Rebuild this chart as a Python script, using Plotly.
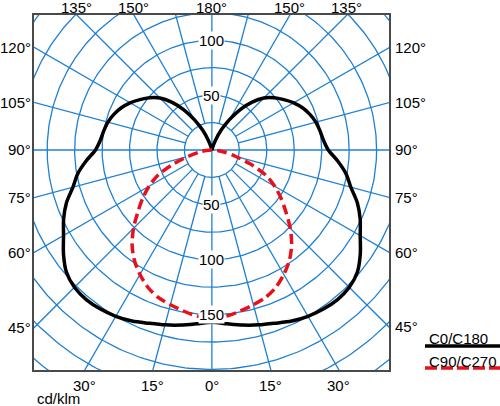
import numpy as np
import plotly.graph_objects as go

# Lichtstärkeverteilung (cd/klm) über den Ausstrahlungswinkel gamma (0° = nadir)
gamma_c0 = list(range(0, 181, 5))
c0_c180 = [157, 159, 162, 165, 168, 172, 175, 177, 178, 177, 173, 165, 156, 149, 141,
           131, 124, 115, 106, 102, 100, 98, 95, 91, 86, 80, 74, 67, 57, 45,
           32, 20, 9, 2, 0, 0, 0]
gamma_c90 = list(range(0, 91, 5))
c90_c270 = [153, 152, 149, 146, 143, 138, 131, 123, 113, 101, 88, 77, 66, 54, 37,
            22, 12, 5, 0]

ring_values = [25, 50, 75, 100, 125, 150, 175, 200, 225, 250, 275]
ring_labels_up = [50, 100]
ring_labels_down = [50, 100, 150]
spoke_angles = list(range(0, 360, 15))
angle_labels_left = [0, 15, 30, 45, 60, 75, 90, 105, 120, 135, 150, 180]
angle_labels_right = [15, 30, 45, 60, 75, 90, 105, 120, 135, 150]
unit_label = "cd/klm"
series_names = ["C0/C180", "C90/C270"]

BLUE = "#1f80d2"
FRAME = "#4a4a4a"
FONT = "Arial, Liberation Sans, sans-serif"
X0, X1 = -162.0, 161.3
Y0, Y1 = -200.5, 123.0
W, H = 500, 406
L, T = 34, 15
R, B = W - 389, H - 370


def to_xy(gam, val):
    """Halbebene rechts (C0/C90) + gespiegelt links (C180/C270), geschlossen."""
    g = np.radians(np.array(gam, dtype=float))
    r = np.array(val, dtype=float)
    xr, yr = r * np.sin(g), -r * np.cos(g)
    return np.concatenate([xr, -xr[::-1]]), np.concatenate([yr, yr[::-1]])


def px_x(p):
    return (p - L) / (W - L - R)


def px_y(p):
    return (H - B - p) / (H - T - B)


# Raster: Ringe + Speichen in einer Linie (None trennt)
gx, gy = [], []
t = np.linspace(0, 2 * np.pi, 361)
for rv in ring_values:
    gx += list(rv * np.cos(t)) + [None]
    gy += list(rv * np.sin(t)) + [None]
for a in spoke_angles:
    r_in = 0 if a % 90 == 0 else ring_values[0]
    s, c = np.sin(np.radians(a)), -np.cos(np.radians(a))
    gx += [r_in * s, 320 * s, None]
    gy += [r_in * c, 320 * c, None]

fig = go.Figure()
fig.add_trace(go.Scatter(x=gx, y=gy, mode="lines", hoverinfo="skip",
                         line=dict(color=BLUE, width=1.3)))

x1, y1 = to_xy(gamma_c0, c0_c180)
fig.add_trace(go.Scatter(x=x1, y=y1, mode="lines", name=series_names[0],
                         line=dict(color="black", width=3.5, shape="spline", smoothing=0.8)))
x2, y2 = to_xy(gamma_c90, c90_c270)
fig.add_trace(go.Scatter(x=x2, y=y2, mode="lines", name=series_names[1],
                         line=dict(color="#e8101a", width=3.5, dash="10px,5px",
                                   shape="spline", smoothing=0.8)))

ann = []
for v in ring_labels_up:
    ann.append(dict(x=0, y=v, text=str(v)))
for v in ring_labels_down:
    ann.append(dict(x=0, y=-v, text=str(v)))
for a in ann:
    a.update(xref="x", yref="y", showarrow=False, bgcolor="white", borderpad=0,
             font=dict(size=15, color="black", family=FONT))


def edge_label(g, side):
    # Schnittpunkt der Speiche mit dem Rahmen
    s = side * np.sin(np.radians(g))
    c = -np.cos(np.radians(g))
    ts = []
    if s > 1e-9:
        ts.append((X1 / s, "r"))
    if s < -1e-9:
        ts.append((X0 / s, "l"))
    if c > 1e-9:
        ts.append((Y1 / c, "t"))
    if c < -1e-9:
        ts.append((Y0 / c, "b"))
    tt, edge = min(ts)
    d = dict(x=tt * s, y=tt * c, text=f"{g}°", xref="x", yref="y", showarrow=False,
             font=dict(size=15, color="black", family=FONT))
    if edge == "t":
        d.update(yanchor="bottom", yshift=-3)
    elif edge == "b":
        d.update(yanchor="top", yshift=-5)
    elif edge == "l":
        d.update(xanchor="right", xshift=-1)
    else:
        d.update(xanchor="left", xshift=4)
    return d


for g in angle_labels_left:
    ann.append(edge_label(g, -1))
for g in angle_labels_right:
    ann.append(edge_label(g, 1))

# Legende: Text über Linienmuster
txt = dict(xref="paper", yref="paper", showarrow=False, xanchor="left", yanchor="middle",
           font=dict(size=15, color="black", family=FONT))
ann.append(dict(x=px_x(427), y=px_y(338), text=series_names[0], **txt))
ann.append(dict(x=px_x(427), y=px_y(361), text=series_names[1], **txt))
ann.append(dict(x=px_x(35), y=px_y(399), text=unit_label, **txt))

shapes = [
    dict(type="line", xref="paper", yref="paper", x0=px_x(425), x1=px_x(500),
         y0=px_y(346), y1=px_y(346), line=dict(color="black", width=3.5)),
    dict(type="line", xref="paper", yref="paper", x0=px_x(425), x1=px_x(500),
         y0=px_y(368), y1=px_y(368), line=dict(color="#e8101a", width=3.5, dash="12px,4px")),
]

ax = dict(showgrid=False, zeroline=False, showticklabels=False, ticks="",
          showline=True, mirror=True, linecolor=FRAME, linewidth=1.5, fixedrange=True)
fig.update_layout(
    width=W, height=H, margin=dict(l=L, r=R, t=T, b=B),
    paper_bgcolor="white", plot_bgcolor="white", showlegend=False,
    xaxis=dict(range=[X0, X1], **ax),
    yaxis=dict(range=[Y0, Y1], **ax),
    annotations=ann, shapes=shapes,
)
# Browser-Standardrand (8px) entfernen, damit die Figur genau im Fenster sitzt
fig.write_html("out.html", config={"displayModeBar": False},
               post_script="document.body.style.margin='0';")
